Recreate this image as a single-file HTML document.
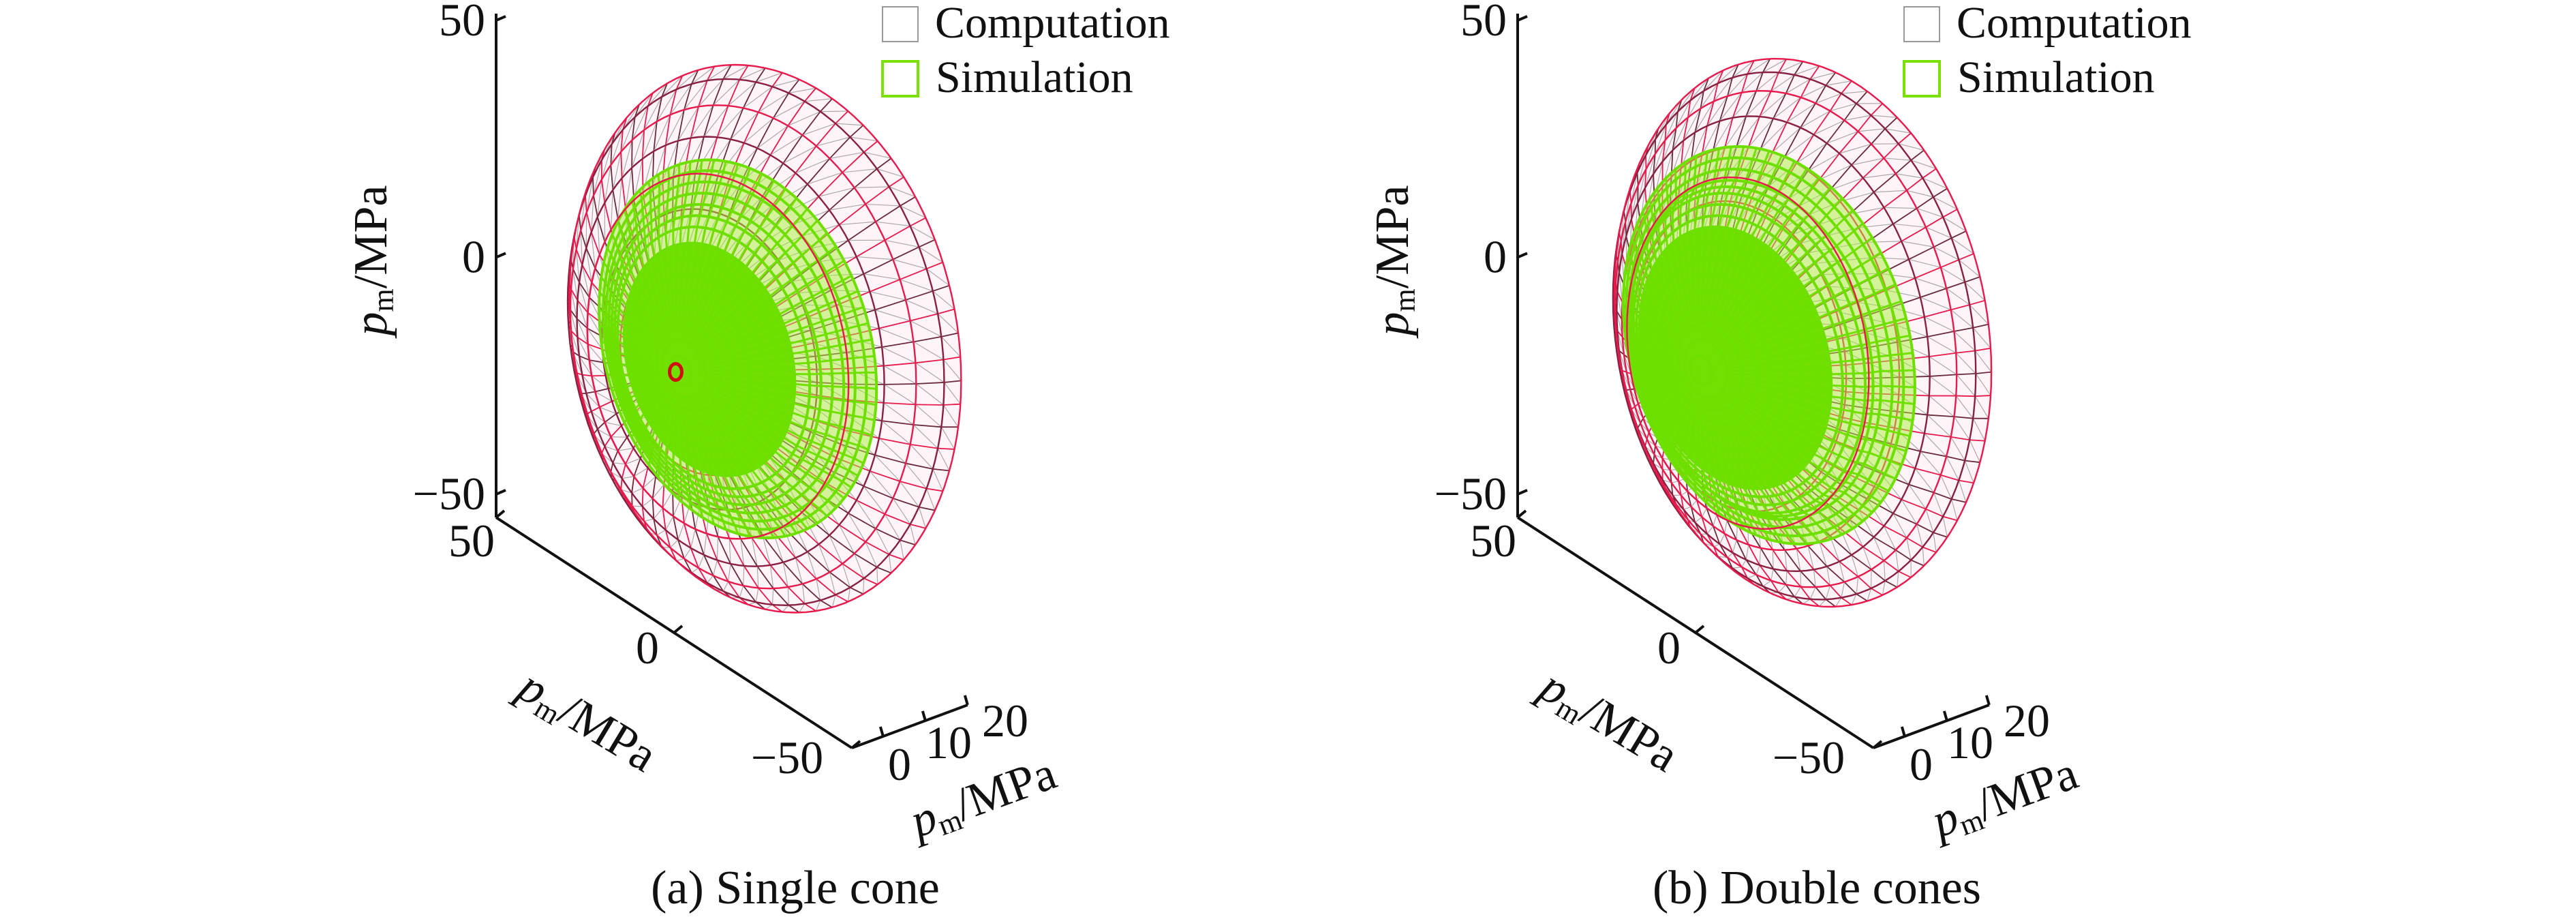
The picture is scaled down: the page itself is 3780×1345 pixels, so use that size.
<!DOCTYPE html>
<html><head><meta charset="utf-8"><style>
html,body{margin:0;padding:0;background:#fff;}
svg{display:block;font-family:"Liberation Serif","DejaVu Serif",serif;}
svg text{font-family:"Liberation Serif","DejaVu Serif",serif;fill:#111;}
</style></head><body>
<svg id="fig" width="3780" height="1345" viewBox="0 0 3780 1345" xmlns="http://www.w3.org/2000/svg">
<g id="panelA"></g>
<g id="panelB"></g>
</svg>
<script>
// Data: cone surfaces (depth along 3rd axis in MPa, radius in MPa)
const compDepthA = [-7,-5,-3,-1,1,3,6,9,12,14.2];
const compRadiusA = [0.5,7,14,21,28,34,40,45,49,51];
const simDepthA = [-7,-6,-5,-4,-3,-2,-1,0,1,2,3,4,5,6,7,7.7];
const simRadiusA = [0.5,3,6,9,12,15,18,21,24,27,29,31,33,35,37,39];
const compDepthB = [-7,-5,-3,-1,1,3,5,8,11,14,16,18];
const compRadiusB = [0.5,6,12,18,24,30,34,39,44,48,51,53];
const simDepthB = [-7,-6,-5,-4,-3,-2,-1,0,1,2,3,4,5,6,7,8,9,10];
const simRadiusB = [0.5,3,6,9,12,15,18,21,24,27,29,31,33,34,35,37,39,41];
const vTicks = [50,0,-50];
const hTicks = [50,0,-50];
const dTicks = [0,10,20];
const NS = "http://www.w3.org/2000/svg";
const FONT = "Liberation Serif, DejaVu Serif, serif";

function mk(parent, tag, attrs){
  const e = document.createElementNS(NS, tag);
  for (const k in attrs) e.setAttribute(k, attrs[k]);
  if (tag === "text") e.setAttribute("font-family", FONT);
  parent.appendChild(e);
  return e;
}

function drawPanel(g, ox, compD, compR, simD, simR, caption, showDot, kaC, KC){
  const P = (a,p,d) => [728+ox+(50-a)*5.22+(d+7.4)*6.2, 759+(50-a)*3.38-(d+7.4)*2.3-(p+54.9)*6.95];
  const ringPt = (r,d,t,ka,kp,sh) => P(ka*r*Math.cos(t), kp*r*Math.sin(t) + sh*r*Math.cos(t), d);
  const ring = (r,d,n,ka,kp,sh) => { const pts=[]; for(let i=0;i<=n;i++){pts.push(ringPt(r,d,i/n*2*Math.PI,ka,kp,sh));} return pts; };
  const ptsStr = pts => pts.map(q=>q[0].toFixed(1)+","+q[1].toFixed(1)).join(" ");
  const SC = -0.27*kaC - 0.06, KS = 1.0, SS = -0.27;

  const comp = mk(g,"g",{});
  
  
  const cl = compD.length-1;
  const cf = mk(comp,"polygon",{points:ptsStr(ring(compR[cl],compD[cl],120,kaC,KC,SC)),fill:"rgba(255,225,235,0.35)",stroke:"none"});
  
  
  const NA = 72;
  for (let i=0;i<compD.length-1;i++){
    for (let k=0;k<NA;k++){
      const t1=k/NA*2*Math.PI, t2=(k+1)/NA*2*Math.PI;
      const A=ringPt(compR[i],compD[i],t1,kaC,KC,SC);
      const B=ringPt(compR[i+1],compD[i+1],t1,kaC,KC,SC);
      const C=ringPt(compR[i+1],compD[i+1],t2,kaC,KC,SC);
      const rl = mk(comp,"line",{x1:A[0],y1:A[1],x2:B[0],y2:B[1],stroke:(k%2?"#e8194c":"#6a2a3a"),"stroke-width":1.8});
      
      
      const dg = mk(comp,"line",{x1:A[0],y1:A[1],x2:C[0],y2:C[1],stroke:"#aaa","stroke-width":1.2});
      
      
    }
  }
  for (let i=0;i<compD.length;i++){
    const pl = mk(comp,"polyline",{points:ptsStr(ring(compR[i],compD[i],120,kaC,KC,SC)),fill:"none",stroke:(i%2?"#e8194c":"#8a2040"),"stroke-width":2.4});
    
    
  }

  const sim = mk(g,"g",{});
  
  
  const last = simD.length-1;
  const outerFill = mk(sim,"polygon",{points:ptsStr(ring(simR[last],simD[last],120,1,KS,SS)),fill:"rgba(170,240,60,0.5)",stroke:"none"});
  
  
  const coreIdx = Math.floor(simD.length*0.55);
  const core = mk(sim,"polygon",{points:ptsStr(ring(simR[coreIdx],simD[coreIdx],120,1,KS,SS)),fill:"#6ee000",stroke:"none"});
  
  
  for (let i=0;i<simD.length-1;i++){
    for (let k=0;k<NA;k++){
      const t=k/NA*2*Math.PI;
      const A=ringPt(simR[i],simD[i],t,1,KS,SS);
      const B=ringPt(simR[i+1],simD[i+1],t,1,KS,SS);
      const l = mk(sim,"line",{x1:A[0],y1:A[1],x2:B[0],y2:B[1],stroke:"#72e000","stroke-width":3});
      
      
    }
  }
  for (let i=1;i<simD.length;i++){
    const pl = mk(sim,"polyline",{points:ptsStr(ring(simR[i],simD[i],120,1,KS,SS)),fill:"none",stroke:"#6ee000","stroke-width":4});
    
    
  }
  const fi = compR.findIndex(r=>r>=34);
  const fr = mk(g,"polyline",{points:ptsStr(ring(compR[fi],compD[fi],120,kaC,KC,SC)),fill:"none",stroke:"#e8194c","stroke-width":2.4});
  
  
  if (showDot){
    const c = P(0,0,compD[0]);
    const dot = mk(g,"ellipse",{cx:c[0],cy:c[1],rx:9,ry:12,fill:"none",stroke:"#d01010","stroke-width":5});
    
    
  }

  const ax = mk(g,"g",{stroke:"#111","stroke-width":4,fill:"none"});
  
  
  const x0 = 728+ox;
  const vAxis = mk(ax,"line",{x1:x0,y1:20,x2:x0,y2:759});
  
  
  const c0 = P(50,-54.9,-7.4), c1 = P(-50,-54.9,-7.4), c2 = P(-50,-54.9,20);
  const hAxis = mk(ax,"line",{x1:c0[0],y1:c0[1],x2:c1[0],y2:c1[1]});
  
  
  const dAxis = mk(ax,"line",{x1:c1[0],y1:c1[1],x2:c2[0],y2:c2[1]});
  
  
  vTicks.forEach(v=>{
    const y = P(50,v,-7.4)[1];
    const t = mk(ax,"line",{x1:x0,y1:y,x2:x0+14,y2:y-6});
    
    
    const tx = mk(g,"text",{x:x0-16,y:y+22,"font-size":68,"text-anchor":"end"});
    tx.textContent = v<0 ? "\u2212"+Math.abs(v) : String(v);
    
    
  });
  const hLab = [[x0-36,816],[x0+222,973],[x0+427,1134]];
  hTicks.forEach((v,i)=>{
    const q = P(v,-54.9,-7.4);
    const t = mk(ax,"line",{x1:q[0],y1:q[1],x2:q[0]+12,y2:q[1]-10});
    
    
    const tx = mk(g,"text",{x:hLab[i][0],y:hLab[i][1],"font-size":68,"text-anchor":"middle"});
    tx.textContent = v<0 ? "\u2212"+Math.abs(v) : String(v);
    
    
  });
  const dLab = [[x0+592,1144],[x0+664,1112],[x0+747,1080]];
  dTicks.forEach((v,i)=>{
    const q = P(-50,-54.9,v);
    const t = mk(ax,"line",{x1:q[0],y1:q[1],x2:q[0]-4,y2:q[1]-14});
    
    
    const tx = mk(g,"text",{x:dLab[i][0],y:dLab[i][1],"font-size":68,"text-anchor":"middle"});
    tx.textContent = String(v);
    
    
  });

  const title = (cx,cy,rot,name)=>{
    const t = mk(g,"text",{x:0,y:22,"font-size":70,"text-anchor":"middle",transform:`translate(${cx},${cy}) rotate(${rot})`});
    const s1 = mk(t,"tspan",{"font-style":"italic"}); s1.textContent = "p";
    const s2 = mk(t,"tspan",{"font-size":44,dy:10}); s2.textContent = "m";
    const s3 = mk(t,"tspan",{dy:-10}); s3.textContent = "/MPa";
    
    
  };
  title(x0-183,382,-90,'vertical-axis-title');
  title(x0+134,1058,31,'horizontal-axis-title');
  title(x0+715,1170,-20,'depth-axis-title');

  const lg = mk(g,"g",{});
  
  
  const lx = 1295+ox;
  const b1 = mk(lg,"rect",{x:lx,y:10,width:52,height:51,fill:"none",stroke:"#999","stroke-width":2});
  
  
  const t1 = mk(lg,"text",{x:lx+77,y:55,"font-size":66});
  t1.textContent = "Computation";
  
  
  const b2 = mk(lg,"rect",{x:lx,y:90,width:52,height:51,fill:"none",stroke:"#7ae000","stroke-width":4});
  
  
  const t2 = mk(lg,"text",{x:lx+78,y:135,"font-size":66});
  t2.textContent = "Simulation";
  
  

  const cap = mk(g,"text",{x:1167+ox,y:1325,"font-size":70,"text-anchor":"middle"});
  cap.textContent = caption;
  
  
}
drawPanel(document.getElementById('panelA'),0,compDepthA,compRadiusA,simDepthA,simRadiusA,"(a) Single cone",true,1.08,1.12);
drawPanel(document.getElementById('panelB'),1499,compDepthB,compRadiusB,simDepthB,simRadiusB,"(b) Double cones",false,1.0,1.08);
</script>
</body></html>
